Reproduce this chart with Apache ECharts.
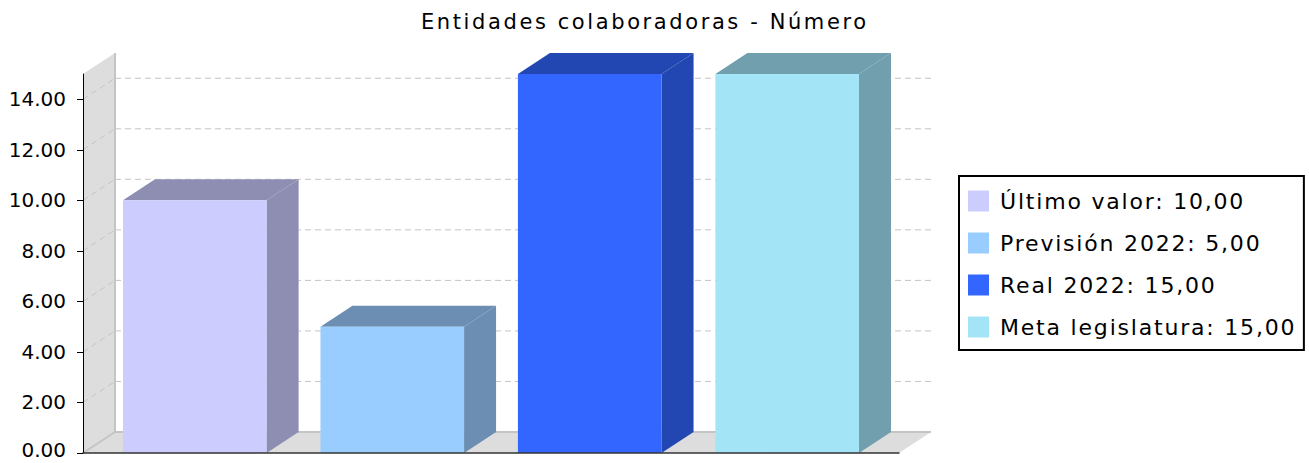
<!DOCTYPE html>
<html><head><meta charset="utf-8">
<script src="https://cdn.jsdelivr.net/npm/echarts@6/dist/echarts.min.js"></script>
<style>
html,body{margin:0;padding:0;background:#fff;}
#c{width:1309px;height:463px;}
text[style*="SpacedTitle"]{letter-spacing:2.6px;}
text[style*="SpacedLegend"]{letter-spacing:1.8px;}
</style></head><body><div id="c"></div>
<script>
const titleText = 'Entidades colaboradoras - Número';
const categories = [''];
const seriesNames = ['Último valor', 'Previsión 2022', 'Real 2022', 'Meta legislatura'];
const seriesValues = [10, 5, 15, 15];
const yTicks = [0, 2, 4, 6, 8, 10, 12, 14];
const yMax = 15;

const frontColors = ['#CCCCFF', '#99CCFF', '#3366FF', '#A3E4F7'];
const sideColors = ['#8E8EB2', '#6B8EB2', '#2347B2', '#729FAD'];
const DX = 32, DY = 21;
const MARGIN = 0.049, BARW = 0.176, GAP = 0.066;
const WALL = '#DDDDDD', EDGE = '#C4C4C4', GRID = '#C4C4C4';

function fmtLegend(v){ return v.toFixed(2).replace('.', ','); }

const chart = echarts.init(document.getElementById('c'), null, {renderer:'svg'});

function wallRender(params, api){
  const cs = params.coordSys;
  const x0 = cs.x, x1 = cs.x + cs.width, yb = cs.y + cs.height, yt = cs.y;
  return {type:'group', children:[
    {type:'polygon', shape:{points:[[x0,yb],[x0,yt],[x0+DX,yt-DY],[x0+DX,yb-DY]]}, style:{fill:WALL}},
    {type:'polygon', shape:{points:[[x0,yb],[x0+DX,yb-DY],[x1+DX,yb-DY],[x1,yb]]}, style:{fill:WALL}},
    {type:'line', shape:{x1:x0+DX,y1:yt-DY,x2:x0+DX,y2:yb-DY}, style:{stroke:EDGE,lineWidth:2}},
    {type:'line', shape:{x1:x0+DX,y1:yb-DY,x2:x1+DX,y2:yb-DY}, style:{stroke:EDGE,lineWidth:2}},
    {type:'line', shape:{x1:x0,y1:yb,x2:x0+DX,y2:yb-DY}, style:{stroke:EDGE,lineWidth:2}}
  ]};
}

function gridRender(params, api){
  const cs = params.coordSys;
  const p = api.coord([api.value(0), api.value(1)]);
  const x0 = cs.x, x1 = cs.x + cs.width, y = p[1];
  return {type:'group', children:[
    {type:'line', shape:{x1:x0,y1:y,x2:x0+DX,y2:y-DY}, style:{stroke:GRID,lineWidth:1,lineDash:[6,4]}},
    {type:'line', shape:{x1:x0+DX,y1:y-DY,x2:x1+DX,y2:y-DY}, style:{stroke:GRID,lineWidth:1,lineDash:[6,4]}}
  ]};
}

function barRender(i){
  return function(params, api){
    const cat = api.value(0), val = api.value(1);
    const bw = api.size([1,0])[0];
    const base = api.coord([cat, 0]);
    const top = api.coord([cat, val]);
    const bandLeft = base[0] - bw/2;
    const xl = bandLeft + bw*(MARGIN + i*(BARW+GAP));
    const xr = xl + bw*BARW;
    const yt = top[1], yb = base[1];
    return {type:'group', children:[
      {type:'polygon', shape:{points:[[xr,yt],[xr+DX,yt-DY],[xr+DX,yb-DY],[xr,yb]]}, style:{fill:sideColors[i]}},
      {type:'polygon', shape:{points:[[xl,yt],[xl+DX,yt-DY],[xr+DX,yt-DY],[xr,yt]]}, style:{fill:sideColors[i]}},
      {type:'rect', shape:{x:xl,y:yt,width:xr-xl,height:yb-yt}, style:{fill:frontColors[i]}}
    ]};
  };
}

const option = {
  backgroundColor:'#fff',
  animation:false,
  title:{text:titleText, left:421, top:11, padding:0,
    textStyle:{fontSize:21, fontWeight:'normal', color:'#000', fontFamily:"'DejaVu Sans', SpacedTitle"}},
  legend:{orient:'vertical', left:959, top:176, itemWidth:21, itemHeight:21, itemGap:20,
    padding:[14,49,12,9], borderColor:'#000', borderWidth:2, icon:'rect', selectedMode:false,
    data:seriesNames,
    formatter:function(name){ return name + ': ' + fmtLegend(seriesValues[seriesNames.indexOf(name)]); },
    textStyle:{fontSize:22, color:'#000', fontFamily:"'DejaVu Sans', SpacedLegend", padding:[0,0,0,6]}},
  grid:{left:83, right:410, top:74, bottom:10, outerBoundsMode:'none'},
  xAxis:{type:'category', data:categories, z:10,
    axisLine:{lineStyle:{color:'#333', width:1.5}},
    axisTick:{alignWithLabel:true, length:5, lineStyle:{color:'#333'}},
    axisLabel:{show:false}, splitLine:{show:false}},
  yAxis:{type:'value', min:0, max:yMax, z:10,
    axisLine:{show:true, lineStyle:{color:'#000', width:1}},
    axisTick:{show:true, length:6, customValues:yTicks, lineStyle:{color:'#000'}},
    axisLabel:{customValues:yTicks,
      formatter:function(v){ return v === 0 ? '{z|' + v.toFixed(2) + '}' : v.toFixed(2); },
      fontSize:20, lineHeight:18, fontFamily:'DejaVu Sans', color:'#000', margin:17,
      rich:{z:{fontSize:20, lineHeight:18, fontFamily:'DejaVu Sans', color:'#000', padding:[0,0,6,0]}}},
    splitLine:{show:false}},
  series:[
    {type:'custom', name:'walls', renderItem:wallRender, data:[[0,0]], z:1, silent:true},
    {type:'custom', name:'gridlines', renderItem:gridRender, data:yTicks.filter(v=>v>0).map(v=>[0,v]), z:1, silent:true}
  ].concat(seriesNames.map(function(n,i){
    return {type:'custom', name:n, renderItem:barRender(i), data:[[0, seriesValues[i]]],
      itemStyle:{color:frontColors[i]}, z:3};
  }))
};
chart.setOption(option);
</script></body></html>
